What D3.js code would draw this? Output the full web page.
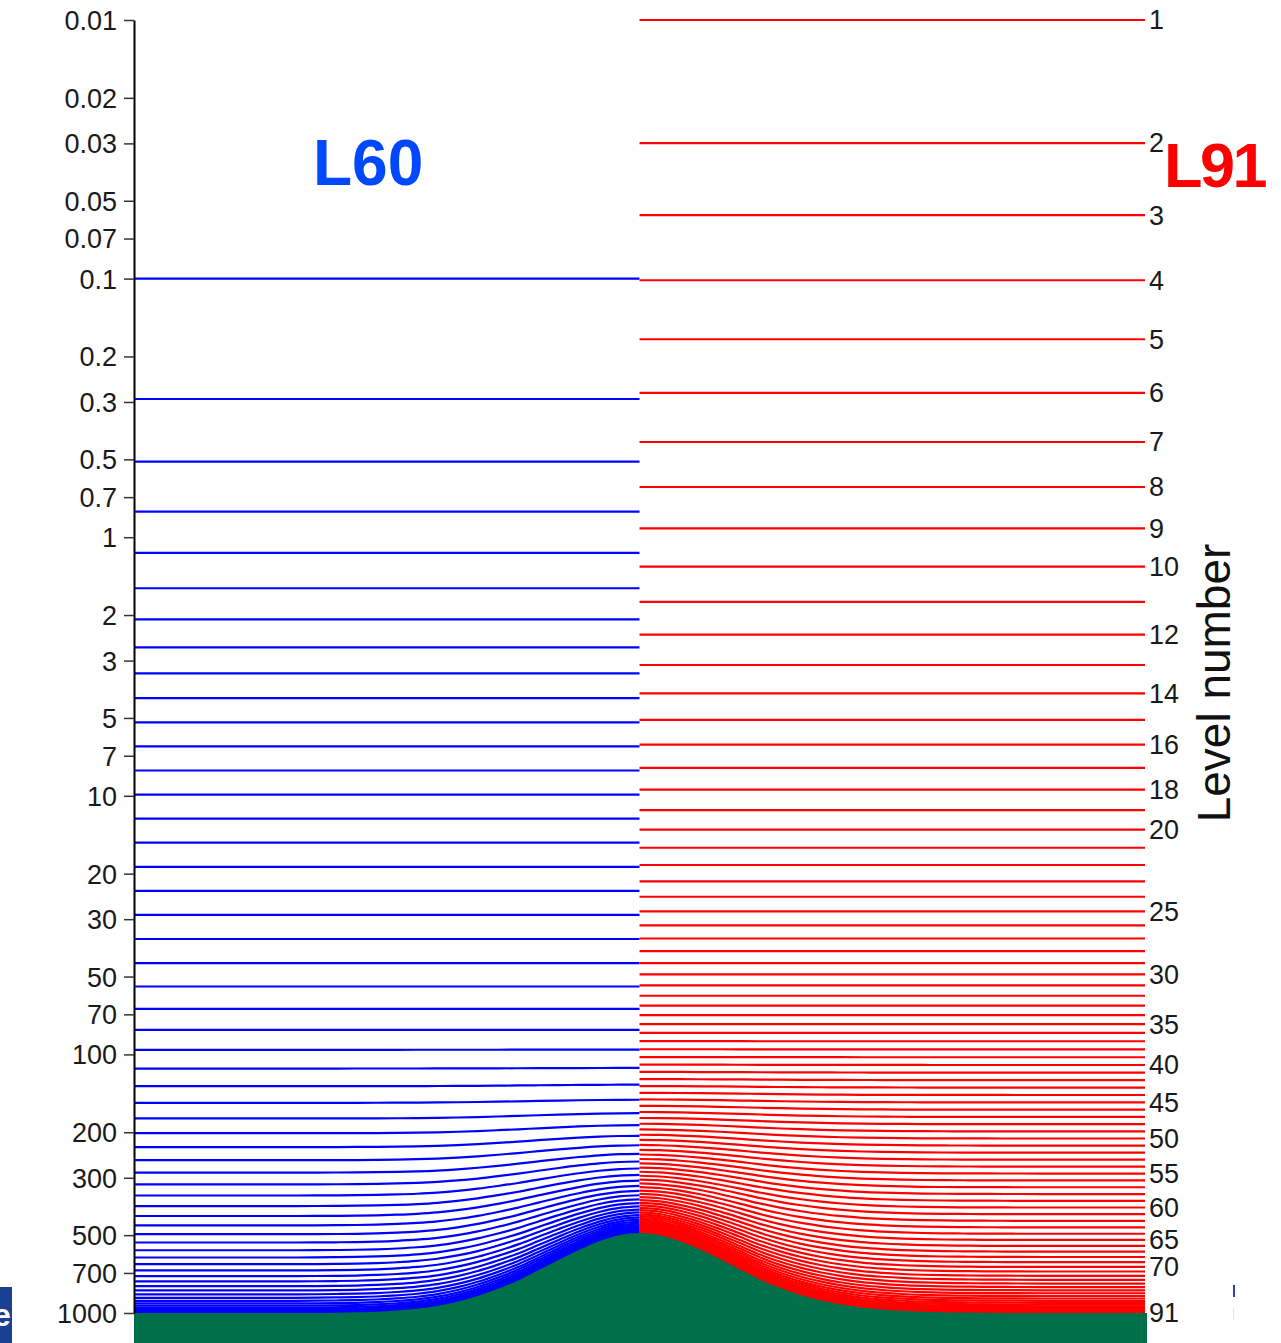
<!DOCTYPE html>
<html><head><meta charset="utf-8">
<script src="https://cdn.jsdelivr.net/npm/d3@7"></script>
<style>
body{margin:0;background:#fff}
svg{display:block}
text{font-family:"Liberation Sans",Arial,Helvetica,sans-serif}
</style>
</head><body>
<svg id="c" width="1281" height="1343"></svg>
<script>
// ---- data ----
const pressureTicks=[0.01,0.02,0.03,0.05,0.07,0.1,0.2,0.3,0.5,0.7,1,2,3,5,7,10,20,30,50,70,100,200,300,500,700,1000];
const levelLabels=[1,2,3,4,5,6,7,8,9,10,12,14,16,18,20,25,30,35,40,45,50,55,60,65,70,91];
// hybrid half-level coefficients (A in Pa, B dimensionless)
const l60A=[0,20,38.425343,63.647804,95.636963,134.483307,180.584351,234.779053,298.495789,373.971924,464.618134,575.651001,713.218079,883.660522,1094.834717,1356.474609,1680.640259,2082.273926,2579.888672,3196.421631,3960.291504,4906.708496,6018.019531,7306.631348,8765.053711,10376.126953,12077.446289,13775.325195,15379.805664,16819.474609,18045.183594,19027.695313,19755.109375,20222.205078,20429.863281,20384.480469,20097.402344,19584.330078,18864.75,17961.357422,16899.46875,15706.447266,14411.124023,13043.21875,11632.758789,10209.500977,8802.356445,7438.803223,6144.314941,4941.77832,3850.91333,2887.696533,2063.779785,1385.912598,855.361755,467.333588,210.39389,65.889244,7.367743,0,0];
const l60B=[0,0,0,0,0,0,0,0,0,0,0,0,0,0,0,0,0,0,0,0,0,0,0,0,
0.00007582,0.00046139,0.00181516,0.00508112,0.01114291,0.02067788,0.03412116,0.05169041,0.07353383,0.09967469,0.13002251,0.16438432,0.20247594,0.24393314,0.28832296,0.33515489,0.38389215,0.43396294,0.48477158,0.53570992,0.58616841,0.63554746,0.68326861,0.72878581,0.77159661,0.81125343,0.84737492,0.87965691,0.90788388,0.93194032,0.95182151,0.96764523,0.97966272,0.9882701,0.99401945,0.99763012,1.0];
const l91A=[0,2.00004,3.980832,7.387186,12.908319,21.413612,33.952858,51.746601,76.167656,108.715561,150.986023,204.637451,271.356506,352.824493,450.685791,566.519226,701.813354,857.945801,1036.166504,1237.585449,1463.16394,1713.709595,1989.87439,2292.155518,2620.898438,2976.302246,3358.425781,3767.196045,4202.416504,4663.776367,5150.859863,5663.15625,6199.839355,6759.727051,7341.469727,7942.92627,8564.624023,9208.305664,9873.560547,10558.881836,11262.484375,11982.662109,12713.897461,13453.225586,14192.009766,14922.685547,15638.053711,16329.560547,16990.623047,17613.28125,18191.029297,18716.96875,19184.544922,19587.513672,19919.796875,20175.394531,20348.916016,20434.158203,20426.21875,20319.011719,20107.03125,19785.357422,19348.775391,18798.822266,18141.296875,17385.595703,16544.585938,15633.566406,14665.645508,13653.219727,12608.383789,11543.166992,10471.310547,9405.222656,8356.25293,7335.164551,6353.920898,5422.802734,4550.21582,3743.464355,3010.146973,2356.202637,1784.854614,1297.656128,895.193542,576.314148,336.772369,162.043427,54.208336,6.575628,0.00316,0];
const l91B=[0,0,0,0,0,0,0,0,0,0,0,0,0,0,0,0,0,0,0,0,0,0,0,0,0,0,0,0,0,0,0,0,0,0,0,
0.000014,0.000055,0.000131,0.000279,0.000548,0.001,0.001701,0.002765,0.004267,0.006322,0.009035,0.012508,0.01686,0.022189,0.02861,0.036227,0.045146,0.055474,0.067316,0.080777,0.095964,0.112979,0.131935,0.152934,0.176091,0.20152,0.229315,0.259554,0.291993,0.326329,0.362203,0.399205,0.436906,0.475016,0.51328,0.551458,0.589317,0.626559,0.662934,0.698224,0.732224,0.764679,0.795385,0.824185,0.85095,0.875518,0.897767,0.917651,0.935157,0.950274,0.963007,0.973466,0.982238,0.989153,0.994204,0.99763,1.0];
// terrain: horizontal position (0..100) and surface pressure (hPa)
const terrainX=[0,10,16,18,20,22,24,26,28,30,32,34,36,38,40,42,44,46,48,50,52,54,56,58,60,62,64,66,68,70,72,74,76,78,80,82,84,86,90,100];
const terrainPs=[1000,1000,1000,999,997,994,988,978,963,940,905,860,806,748,684,624,571,528,500,490,500,528,568,620,680,745,803,853,894,927,952,969,981,989,994,996,998,999,1000,1000];

// ---- scales ----
const svg=d3.select("#c");
const x=d3.scaleLinear().domain([0,100]).range([134,1145]);
const y=d3.scaleLog().domain([0.01,1000]).range([20,1313]);
const bottom=1343;

const full=(A,B)=>d3.range(A.length-1).map(k=>({a:(A[k]+A[k+1])/200,b:(B[k]+B[k+1])/2}));
const lev60=full(l60A,l60B), lev91=full(l91A,l91B);
const terrain=terrainX.map((t,i)=>({t,ps:terrainPs[i]}));
const leftT=terrain.filter(d=>d.t<=50), rightT=terrain.filter(d=>d.t>=50);

const line=d3.line().curve(d3.curveMonotoneX);
function drawLevels(levs,pts,color,cls,w){
  svg.append("g").attr("class",cls).selectAll("path").data(levs).join("path")
    .attr("d",L=>line(pts.map(d=>[x(d.t),y(L.a+L.b*d.ps)])))
    .attr("fill","none").attr("stroke",color).attr("stroke-width",w);
}
drawLevels(lev60,leftT,"#0000ff","l60",2.2);
drawLevels(lev91,rightT,"#ff0000","l91",2.2);

// terrain
const area=d3.area().curve(d3.curveMonotoneX).x(d=>x(d.t)).y0(bottom).y1(d=>y(d.ps));
svg.append("path").datum(terrain).attr("d",area).attr("fill","#00704a");
svg.append("rect").attr("x",x(100)).attr("y",y(1000)).attr("width",2).attr("height",bottom-y(1000)).attr("fill","#00704a");

// left axis
const ax=svg.append("g").attr("transform","translate(134,0)")
  .call(d3.axisLeft(y).tickValues(pressureTicks).tickFormat(d=>String(d)).tickSize(10).tickSizeOuter(0).tickPadding(7));
ax.select(".domain").attr("stroke","#000").attr("stroke-width",2);
ax.selectAll(".tick line").attr("stroke","#333").attr("stroke-width",1.5);
ax.selectAll(".tick text").attr("font-size",27).attr("fill","#1a1a1a")
  .attr("font-family","Liberation Sans, Arial, sans-serif").attr("dy","0.35em");

// right level labels
svg.append("g").selectAll("text").data(levelLabels).join("text")
  .attr("x",1149).attr("y",n=>{const L=lev91[n-1];return y(L.a+L.b*1000);})
  .attr("dy","0.35em").attr("font-size",27).attr("fill","#1a1a1a").text(n=>n);

// axis titles
svg.append("clipPath").attr("id","pclip").append("rect").attr("x",0).attr("y",541).attr("width",120).attr("height",400);
svg.append("text").attr("clip-path","url(#pclip)")
  .attr("transform","translate(52,840) rotate(-90)").attr("font-size",46).attr("fill","#111")
  .text("Pressure (hPa)");
svg.append("text").attr("transform","translate(1230,683) rotate(-90)").attr("text-anchor","middle")
  .attr("font-size",46).attr("fill","#111").text("Level number");

// series labels
svg.append("text").attr("x",313).attr("y",185).attr("font-size",64).attr("font-weight","bold")
  .attr("fill","#0048ff").text("L60");
svg.append("text").attr("x",1164).attr("y",187).attr("font-size",63).attr("font-weight","bold")
  .attr("letter-spacing",-2.5).attr("fill","#ff0000").text("L91");

// cropped corner artefacts
svg.append("clipPath").attr("id","eclip").append("rect").attr("x",0).attr("y",1287).attr("width",12).attr("height",56);
svg.append("rect").attr("x",0).attr("y",1287).attr("width",12).attr("height",56).attr("fill","#1b3f91");
svg.append("text").attr("clip-path","url(#eclip)").attr("x",-7).attr("y",1326).attr("font-size",32)
  .attr("font-weight","bold").attr("fill","#fff").text("e");
svg.append("rect").attr("x",1233).attr("y",1285).attr("width",2).attr("height",12).attr("fill","#2a4aa8");
svg.append("rect").attr("x",1233).attr("y",1308).attr("width",1).attr("height",12).attr("fill","#e4e4e4");
</script>
</body></html>
